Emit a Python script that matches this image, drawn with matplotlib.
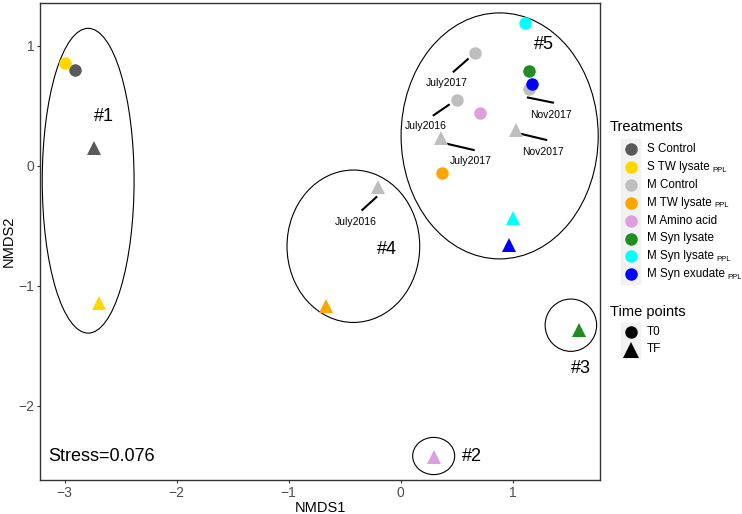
import matplotlib
matplotlib.use("Agg")
import matplotlib.pyplot as plt
from matplotlib.patches import Ellipse, Rectangle
from matplotlib.lines import Line2D

plt.rcParams['font.family'] = ['Liberation Sans', 'DejaVu Sans']

# treatments and their colours
treatments = ['S Control', 'S TW lysate PPL', 'M Control', 'M TW lysate PPL',
              'M Amino acid', 'M Syn lysate', 'M Syn lysate PPL', 'M Syn exudate PPL']
treat_names = ['S Control', 'S TW lysate', 'M Control', 'M TW lysate',
               'M Amino acid', 'M Syn lysate', 'M Syn lysate', 'M Syn exudate']
treat_sub = ['', 'PPL', '', 'PPL', '', '', 'PPL', 'PPL']
treat_colors = ['#595959', '#FFD700', '#BEBEBE', '#FFA500',
                '#DDA0DD', '#228B22', '#00FFFF', '#0000FF']
time_points = ['T0', 'TF']

# NMDS scores
pt_treat = ['S Control', 'S TW lysate PPL', 'S Control', 'S TW lysate PPL',
            'M Control', 'M Control', 'M Control', 'M Control', 'M Control', 'M Control',
            'M TW lysate PPL', 'M TW lysate PPL', 'M Amino acid', 'M Amino acid',
            'M Syn lysate', 'M Syn lysate', 'M Syn lysate PPL', 'M Syn lysate PPL',
            'M Syn exudate PPL', 'M Syn exudate PPL']
pt_time = ['T0', 'T0', 'TF', 'TF',
           'T0', 'T0', 'T0', 'TF', 'TF', 'TF',
           'T0', 'TF', 'T0', 'TF',
           'T0', 'TF', 'T0', 'TF',
           'T0', 'TF']
pt_x = [-2.91, -3.00, -2.74, -2.69,
        0.66, 0.50, 1.146, 0.357, 1.033, -0.20,
        0.372, -0.663, 0.708, 0.30,
        1.146, 1.59, 1.11, 1.003,
        1.176, 0.964]
pt_y = [0.80, 0.853, 0.145, -1.147,
        0.94, 0.548, 0.637, 0.228, 0.298, -0.175,
        -0.063, -1.167, 0.437, -2.425,
        0.79, -1.37, 1.19, -0.438,
        0.68, -0.66]

# sampling-date annotations
ann_text = ['July2017', 'July2016', 'Nov2017', 'July2017', 'Nov2017', 'July2016']
ann_x = [0.41, 0.223, 1.34, 0.63, 1.27, -0.40]
ann_y = [0.69, 0.33, 0.42, 0.04, 0.117, -0.467]
seg_x0 = [0.60, 0.43, 1.137, 0.422, 1.077, -0.217]
seg_y0 = [0.887, 0.506, 0.567, 0.18, 0.264, -0.263]
seg_x1 = [0.473, 0.295, 1.36, 0.652, 1.30, -0.342]
seg_y1 = [0.783, 0.42, 0.525, 0.13, 0.214, -0.369]

# cluster ellipses
grp_names = ['#1', '#2', '#3', '#4', '#5']
ell_cx = [-2.79, 0.295, 1.52, -0.422, 0.884]
ell_cy = [-0.126, -2.42, -1.33, -0.672, 0.2475]
ell_w = [0.82, 0.375, 0.46, 1.185, 1.76]
ell_h = [2.54, 0.31, 0.436, 1.27, 2.05]
grp_x = [-2.65, 0.64, 1.607, -0.122, 1.28]
grp_y = [0.41, -2.425, -1.69, -0.70, 1.006]

W, H = 742, 514
fig = plt.figure(figsize=(W / 100, H / 100), dpi=100)
ax = fig.add_axes([40 / W, 34 / H, 560 / W, 477 / H])

shape = {'T0': 'o', 'TF': '^'}
size = {'T0': 9.0, 'TF': 10.5}
for t, tp, x, y in zip(pt_treat, pt_time, pt_x, pt_y):
    c = treat_colors[treatments.index(t)]
    ax.plot(x, y, linestyle='none', marker=shape[tp], markersize=size[tp],
            color=c, markeredgewidth=0, zorder=3)

for cx, cy, w, h in zip(ell_cx, ell_cy, ell_w, ell_h):
    ax.add_patch(Ellipse((cx, cy), w, h, fill=False, edgecolor='black', lw=0.8, zorder=2))
for name, x, y in zip(grp_names, grp_x, grp_y):
    ax.text(x, y, name, fontsize=13, ha='center', va='center')

for x0, y0, x1, y1 in zip(seg_x0, seg_y0, seg_x1, seg_y1):
    ax.plot([x0, x1], [y0, y1], color='black', lw=1.5, zorder=2)
for s, x, y in zip(ann_text, ann_x, ann_y):
    ax.text(x, y, s, fontsize=7.5, ha='center', va='center')

ax.text(-3.15, -2.425, 'Stress=0.076', fontsize=13, ha='left', va='center')

ax.set_xlim(-3.22, 1.78)
ax.set_ylim(-2.62, 1.355)
ax.set_xticks([-3, -2, -1, 0, 1])
ax.set_yticks([-2, -1, 0, 1])
ax.set_xticklabels(['\u22123', '\u22122', '\u22121', '0', '1'])
ax.set_yticklabels(['\u22122', '\u22121', '0', '1'])
ax.tick_params(colors='#333333', labelcolor='#4D4D4D', labelsize=10, length=2.5,
               width=0.8, pad=1.5)
for sp in ax.spines.values():
    sp.set_color('#333333')
    sp.set_linewidth(1.0)
ax.set_xlabel('NMDS1', fontsize=10.5, labelpad=1)
ax.set_ylabel('NMDS2', fontsize=10.5, labelpad=2)

# legends drawn by hand, ggplot style (grey key column)
def fx(px):
    return px / W

def fy(py):
    return 1 - py / H

fig.patches.append(Rectangle((fx(621), fy(284)), 19 / W, 145 / H,
                             transform=fig.transFigure, color='#F2F2F2', zorder=0))
fig.patches.append(Rectangle((fx(621), fy(358)), 19 / W, 35 / H,
                             transform=fig.transFigure, color='#F2F2F2', zorder=0))

fig.text(fx(610), fy(127), 'Treatments', fontsize=10.5, va='center')
for i, (name, sub, c) in enumerate(zip(treat_names, treat_sub, treat_colors)):
    yy = fy(149 + 17.9 * i)
    fig.add_artist(Line2D([fx(630.5)], [yy], transform=fig.transFigure, linestyle='none',
                          marker='o', markersize=9, color=c, markeredgewidth=0))
    t = fig.text(fx(647), yy, name, fontsize=8.4, va='center')
    if sub:
        ax.annotate(sub, xy=(1, 0), xycoords=t, xytext=(1.8, -0.5),
                    textcoords='offset points', fontsize=5.6, va='bottom',
                    annotation_clip=False)

fig.text(fx(610), fy(312), 'Time points', fontsize=10.5, va='center')
tp_size = [9, 11]
for i, tp in enumerate(time_points):
    yy = fy(332 + 17.5 * i)
    fig.add_artist(Line2D([fx(630.5)], [yy], transform=fig.transFigure, linestyle='none',
                          marker=shape[tp], markersize=tp_size[i], color='black',
                          markeredgewidth=0))
    fig.text(fx(647), yy, tp, fontsize=8.4, va='center')

fig.savefig('out.png', dpi=100)
